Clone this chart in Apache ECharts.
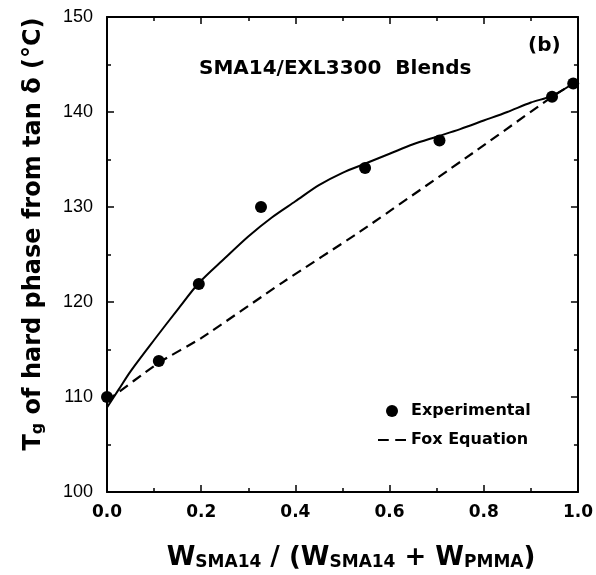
<!DOCTYPE html>
<html>
<head>
<meta charset="utf-8">
<script src="https://cdn.jsdelivr.net/npm/echarts@6/dist/echarts.min.js"></script>
<style>
  html, body { margin: 0; padding: 0; background: #ffffff; }
  #chart { width: 596px; height: 575px; }
</style>
</head>
<body>
<div id="chart"></div>
<script>
// Measured glass transition of the hard phase (tan delta peak), SMA14/EXL3300 blends
const expX = [0, 0.11, 0.195, 0.327, 0.548, 0.706, 0.945, 0.99];
const expY = [110, 113.8, 121.9, 130.0, 134.1, 137.0, 141.6, 143.0];

// Smooth trend through the measurements
const fitX = [0, 0.025, 0.05, 0.1, 0.15, 0.195, 0.25, 0.3, 0.35, 0.4, 0.45, 0.5, 0.55, 0.6, 0.65, 0.7, 0.75, 0.8, 0.85, 0.9, 0.945, 0.99];
const fitY = [108.9, 110.8, 112.7, 116.0, 119.2, 122.0, 124.6, 126.9, 128.9, 130.6, 132.3, 133.6, 134.6, 135.6, 136.6, 137.4, 138.2, 139.1, 140.0, 141.0, 141.7, 143.0];

// Fox equation prediction
const foxX = [0, 0.11, 0.2, 0.374, 0.537, 0.786, 0.945, 0.99];
const foxY = [109.6, 113.6, 116.2, 122.1, 127.4, 136.0, 141.6, 143.0];

// Axis tick labels
const xTickLabels = ['0.0', '0.2', '0.4', '0.6', '0.8', '1.0'];
const yTickLabels = ['100', '110', '120', '130', '140', '150'];

const wide = 'DejaVu Sans';
const narrow = 'Liberation Sans';
const ink = '#000000';

const pairs = (xs, ys) => xs.map((x, i) => [x, ys[i]]);

const chart = echarts.init(document.getElementById('chart'), null, { renderer: 'canvas' });

const xBase = {
  type: 'value', min: 0, max: 1, interval: 0.2,
  axisLine: { onZero: false, lineStyle: { color: ink, width: 2 } },
  axisTick: { inside: true, length: 7, lineStyle: { color: ink, width: 1.5 } },
  minorTick: { show: true, splitNumber: 2, length: 4, lineStyle: { color: ink, width: 1.5 } },
  splitLine: { show: false }, minorSplitLine: { show: false }
};
const yBase = {
  type: 'value', min: 100, max: 150, interval: 10,
  axisLine: { onZero: false, lineStyle: { color: ink, width: 2 } },
  axisTick: { inside: true, length: 7, lineStyle: { color: ink, width: 1.5 } },
  minorTick: { show: true, splitNumber: 2, length: 4, lineStyle: { color: ink, width: 1.5 } },
  splitLine: { show: false }, minorSplitLine: { show: false }
};

const option = {
  animation: false,
  backgroundColor: '#ffffff',
  grid: { left: 107, right: 18, top: 17, bottom: 83 },
  xAxis: [
    Object.assign({}, xBase, {
      position: 'bottom',
      axisLabel: {
        margin: 12, color: ink, fontSize: 17, fontWeight: 'bold', fontFamily: wide,
        formatter: v => xTickLabels[Math.round(v / 0.2)]
      }
    }),
    Object.assign({}, xBase, { position: 'top', axisLabel: { show: false } })
  ],
  yAxis: [
    Object.assign({}, yBase, {
      position: 'left',
      axisLabel: {
        margin: 14, color: ink, fontSize: 18, fontFamily: narrow,
        formatter: v => yTickLabels[Math.round((v - 100) / 10)]
      }
    }),
    Object.assign({}, yBase, { position: 'right', axisLabel: { show: false } })
  ],
  legend: {
    data: [
      { name: 'Experimental', icon: 'circle' },
      { name: 'Fox Equation', icon: 'path://M0,0L10,0L10,2L0,2Z M16,0L26,0L26,2L16,2Z' }
    ],
    orient: 'vertical',
    left: 373, top: 396,
    itemWidth: 28, itemHeight: 12, itemGap: 9, itemTextGap: 13,
    textStyle: { color: ink, fontSize: 16, fontWeight: 'bold', fontFamily: wide, lineHeight: 20 }
  },
  graphic: [
    {
      type: 'text', left: 199, top: 59, z: 10,
      style: { text: 'SMA14/EXL3300  Blends', fill: ink, fontSize: 20, fontWeight: 'bold', fontFamily: wide }
    },
    {
      type: 'text', left: 528, top: 36, z: 10,
      style: { text: '(b)', fill: ink, fontSize: 20, fontWeight: 'bold', fontFamily: wide }
    },
    {
      type: 'text', x: 32, y: 234, rotation: Math.PI / 2, z: 10,
      style: {
        text: '{t|T}{g|g}{n| of hard phase from tan δ (°C)}',
        align: 'center', verticalAlign: 'middle',
        rich: {
          t: { fontSize: 24, fontWeight: 'bold', fontFamily: wide, fill: ink, lineHeight: 28, verticalAlign: 'bottom' },
          g: { fontSize: 16, fontWeight: 'bold', fontFamily: wide, fill: ink, lineHeight: 14, verticalAlign: 'bottom' },
          n: { fontSize: 24, fontWeight: 'bold', fontFamily: wide, fill: ink, lineHeight: 28, verticalAlign: 'bottom' }
        }
      }
    },
    {
      type: 'text', x: 351, y: 556, z: 10,
      style: {
        text: '{w|W}{s|SMA14}{n| / (}{w|W}{s|SMA14}{n| + }{w|W}{s|PMMA}{n|)}',
        align: 'center', verticalAlign: 'middle',
        rich: {
          w: { fontSize: 26, fontWeight: 'bold', fontFamily: wide, fill: ink, lineHeight: 30, verticalAlign: 'bottom' },
          s: { fontSize: 17, fontWeight: 'bold', fontFamily: wide, fill: ink, lineHeight: 15, verticalAlign: 'bottom' },
          n: { fontSize: 26, fontWeight: 'bold', fontFamily: wide, fill: ink, lineHeight: 30, verticalAlign: 'bottom' }
        }
      }
    }
  ],
  series: [
    {
      name: 'Trend', type: 'line', data: pairs(fitX, fitY),
      smooth: 0.3, symbol: 'none', z: 3,
      lineStyle: { color: ink, width: 2 }
    },
    {
      name: 'Fox Equation', type: 'line', data: pairs(foxX, foxY),
      smooth: 0.2, symbol: 'none', z: 2,
      itemStyle: { color: ink },
      lineStyle: { color: ink, width: 2.2, type: [10, 6] }
    },
    {
      name: 'Experimental', type: 'scatter', data: pairs(expX, expY),
      symbol: 'circle', symbolSize: 12, z: 5,
      itemStyle: { color: ink, opacity: 1 }
    }
  ]
};

chart.setOption(option);
</script>
</body>
</html>
